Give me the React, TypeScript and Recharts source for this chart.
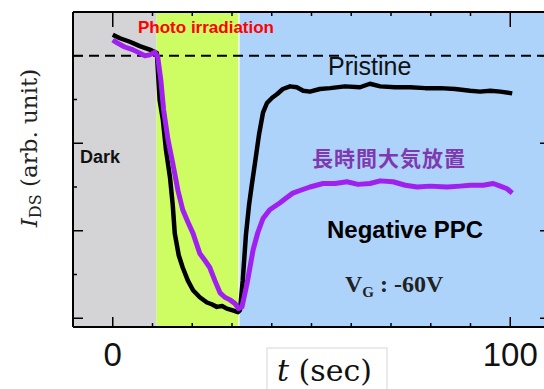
import { LineChart, Line, XAxis, YAxis, ReferenceArea, ReferenceLine } from "recharts";

// time axis (sec)
const X_TICKS = [-10, 0, 10, 20, 30, 40, 50, 60, 70, 80, 90, 100, 110];
const X_LABELED = [0, 100];
// current axis (arb. unit)
const Y_TICKS = [0, 0.5, 1, 1.5, 2, 2.5, 3, 3.5];
const Y_MAJOR = [0, 1, 2, 3];
const DARK_LEVEL = 3;

// phases
const DARK_END = 11;
const LIGHT_END = 31.6;
const RECOVERY_START = 31.9;

const PRISTINE_T = [
  0, 1.8, 4.3, 6.8, 9.3, 11.1, 11.8, 12.6, 13.4, 14.4, 15.1, 15.6, 16.6, 17.6, 18.9, 20.2, 21.9,
  23.7, 24.9, 26.2, 27.5, 28.7, 30.2, 31.5, 32.0, 32.7, 33.5, 34.3, 35.0, 35.8, 36.8, 37.8, 38.8,
  40.1, 41.3, 42.8, 44.6, 46.3, 47.9, 49.6, 52.1, 54.7, 58.4, 62.2, 64.7, 67.3, 71.0, 74.8, 78.6,
  82.4, 86.1, 89.9, 92.4, 95.0, 97.5, 100.5,
];
const PRISTINE_I = [
  3.24, 3.2, 3.16, 3.11, 3.07, 3.03, 2.49, 2.27, 1.92, 1.61, 1.29, 0.97, 0.72, 0.58, 0.43, 0.32, 0.24,
  0.18, 0.16, 0.13, 0.14, 0.11, 0.09, 0.07, 0.09, 0.43, 0.95, 1.3, 1.53, 1.78, 2.1, 2.35, 2.46,
  2.52, 2.56, 2.62, 2.65, 2.64, 2.6, 2.59, 2.62, 2.63, 2.65, 2.64, 2.68, 2.65, 2.64, 2.64, 2.63,
  2.63, 2.62, 2.6, 2.59, 2.6, 2.59, 2.57,
];

const AGED_T = [
  0, 1.0, 3.0, 5.0, 6.8, 8.1, 9.3, 10.6, 11.3, 12.1, 12.8, 13.9, 15.1, 16.4, 17.6, 18.9, 20.2,
  21.9, 23.2, 24.4, 25.7, 27.0, 28.2, 29.5, 30.7, 31.7, 32.5, 33.8, 35.3, 36.5, 37.8, 39.5, 42.1,
  43.8, 45.3, 47.1, 49.6, 52.9, 55.9, 58.9, 61.7, 64.7, 67.3, 70.5, 73.6, 76.6, 79.8, 84.1, 87.4,
  89.9, 93.2, 95.7, 97.5, 99.2, 100.5,
];
const AGED_I = [
  3.18, 3.15, 3.1, 3.07, 3.03, 3.0, 3.01, 3.04, 2.99, 2.72, 2.38, 2.04, 1.77, 1.46, 1.24, 1.1, 0.97,
  0.74, 0.66, 0.58, 0.43, 0.29, 0.24, 0.21, 0.17, 0.11, 0.13, 0.4, 0.78, 0.98, 1.14, 1.24, 1.32,
  1.38, 1.43, 1.46, 1.5, 1.54, 1.54, 1.56, 1.53, 1.54, 1.57, 1.56, 1.52, 1.5, 1.51, 1.5, 1.51,
  1.52, 1.52, 1.54, 1.51, 1.48, 1.43,
];

const pristine = PRISTINE_T.map((t, i) => ({ t, v: PRISTINE_I[i] }));
const aged = AGED_T.map((t, i) => ({ t, v: AGED_I[i] }));

const axisLine = { stroke: "#000", strokeWidth: 2 };

const BottomTick = ({ x, y, payload }: any) => {
  const major = X_LABELED.includes(payload.value);
  return (
    <g>
      <line x1={x} x2={x} y1={y} y2={y - (major ? 10 : 4)} stroke="#000" strokeWidth={1.5} />
      {major && (
        <text x={x} y={y + 39} textAnchor="middle" fontSize={33} fontFamily="'Liberation Sans', Arial" fill="#111">
          {payload.value}
        </text>
      )}
    </g>
  );
};

const TopTick = ({ x, y, payload }: any) => {
  const major = X_LABELED.includes(payload.value);
  return <line x1={x} x2={x} y1={y} y2={y + (major ? 15 : 4)} stroke="#000" strokeWidth={1.5} />;
};

const LeftTick = ({ x, y, payload }: any) => {
  const major = Y_MAJOR.includes(payload.value);
  return <line x1={x} x2={x + (major ? 10 : 4)} y1={y} y2={y} stroke="#000" strokeWidth={1.5} />;
};

const RightTick = ({ x, y, payload }: any) => {
  const major = Y_MAJOR.includes(payload.value);
  return <line x1={x} x2={x - (major ? 10 : 4)} y1={y} y2={y} stroke="#000" strokeWidth={1.5} />;
};

export default function App() {
  return (
    <div
      style={{
        position: "absolute",
        left: 0,
        top: 0,
        width: 544,
        height: 389,
        overflow: "hidden",
        background: "#fff",
      }}
    >
      <LineChart width={560} height={389} margin={{ top: 11, right: 9, bottom: 61, left: 72 }}>
        <ReferenceArea x1={-10} x2={DARK_END} fill="#d4d3d5" fillOpacity={1} stroke="none" />
        <ReferenceArea x1={DARK_END} x2={LIGHT_END} fill="#cdfd63" fillOpacity={1} stroke="none" />
        <ReferenceArea x1={RECOVERY_START} x2={110} fill="#add3fb" fillOpacity={1} stroke="none" />
        <ReferenceLine y={DARK_LEVEL} stroke="#000" strokeWidth={2} strokeDasharray="10 6" />
        <XAxis
          dataKey="t"
          type="number"
          domain={[-10, 110]}
          ticks={X_TICKS}
          interval={0}
          height={1}
          tickSize={0}
          tickMargin={0}
          tickLine={false}
          axisLine={axisLine}
          tick={BottomTick}
          allowDataOverflow
        />
        <XAxis
          xAxisId="top"
          orientation="top"
          dataKey="t"
          type="number"
          domain={[-10, 110]}
          ticks={X_TICKS}
          interval={0}
          height={1}
          tickSize={0}
          tickMargin={0}
          tickLine={false}
          axisLine={axisLine}
          tick={TopTick}
          allowDataOverflow
        />
        <YAxis
          type="number"
          domain={[-0.1, 3.5]}
          ticks={Y_TICKS}
          interval={0}
          width={1}
          tickSize={0}
          tickMargin={0}
          tickLine={false}
          axisLine={axisLine}
          tick={LeftTick}
          allowDataOverflow
        />
        <YAxis
          yAxisId="right"
          orientation="right"
          type="number"
          domain={[-0.1, 3.5]}
          ticks={Y_TICKS}
          interval={0}
          width={1}
          tickSize={0}
          tickMargin={0}
          tickLine={false}
          axisLine={axisLine}
          tick={RightTick}
          allowDataOverflow
        />
        <Line
          data={pristine}
          dataKey="v"
          type="linear"
          stroke="#000"
          strokeWidth={4.5}
          strokeLinejoin="round"
          dot={false}
          isAnimationActive={false}
        />
        <Line
          data={aged}
          dataKey="v"
          type="linear"
          stroke="#a020f0"
          strokeWidth={5}
          strokeLinejoin="round"
          dot={false}
          isAnimationActive={false}
        />
      </LineChart>
      <svg
        width={544}
        height={389}
        style={{ position: "absolute", left: 0, top: 0, pointerEvents: "none" }}
      >
        <g fontFamily="'Liberation Sans', Arial, sans-serif">
          <text x={138} y={33} fontSize={17} fontWeight="bold" fill="#ff0000">
            Photo irradiation
          </text>
          <text x={80} y={163} fontSize={18} fontWeight="bold" fill="#111">
            Dark
          </text>
          <text x={328} y={75} fontSize={25} fill="#111">
            Pristine
          </text>
          <text x={327} y={238} fontSize={24} fontWeight="bold" fill="#000">
            Negative PPC
          </text>
        </g>
        <text
          x={312}
          y={166}
          fontSize={21}
          letterSpacing={1}
          fontWeight="bold"
          fontFamily="'Noto Sans CJK JP', sans-serif"
          fill="#8038b0"
        >
          長時間大気放置
        </text>
        <text x={345} y={292} fontSize={24} fontWeight="bold" fontFamily="'Liberation Serif', serif" fill="#222">
          V
          <tspan fontSize={15} dy={5}>
            G
          </tspan>
          <tspan dy={-5}> : -60V</tspan>
        </text>
        <text
          transform="translate(37,148) rotate(-90)"
          textAnchor="middle"
          fontSize={23}
          fontFamily="'DejaVu Serif', serif"
          fill="#222"
        >
          <tspan fontStyle="italic">I</tspan>
          <tspan fontSize={16} dy={4}>
            DS
          </tspan>
          <tspan dy={-4}> (arb. unit)</tspan>
        </text>
        <rect x={267} y={348} width={120} height={60} fill="#fff" stroke="#d6d6d6" strokeWidth={1} />
        <text x={277} y={381} fontSize={30} fontFamily="'DejaVu Serif', serif" fill="#111">
          <tspan fontStyle="italic">t</tspan> (sec)
        </text>
      </svg>
    </div>
  );
}
